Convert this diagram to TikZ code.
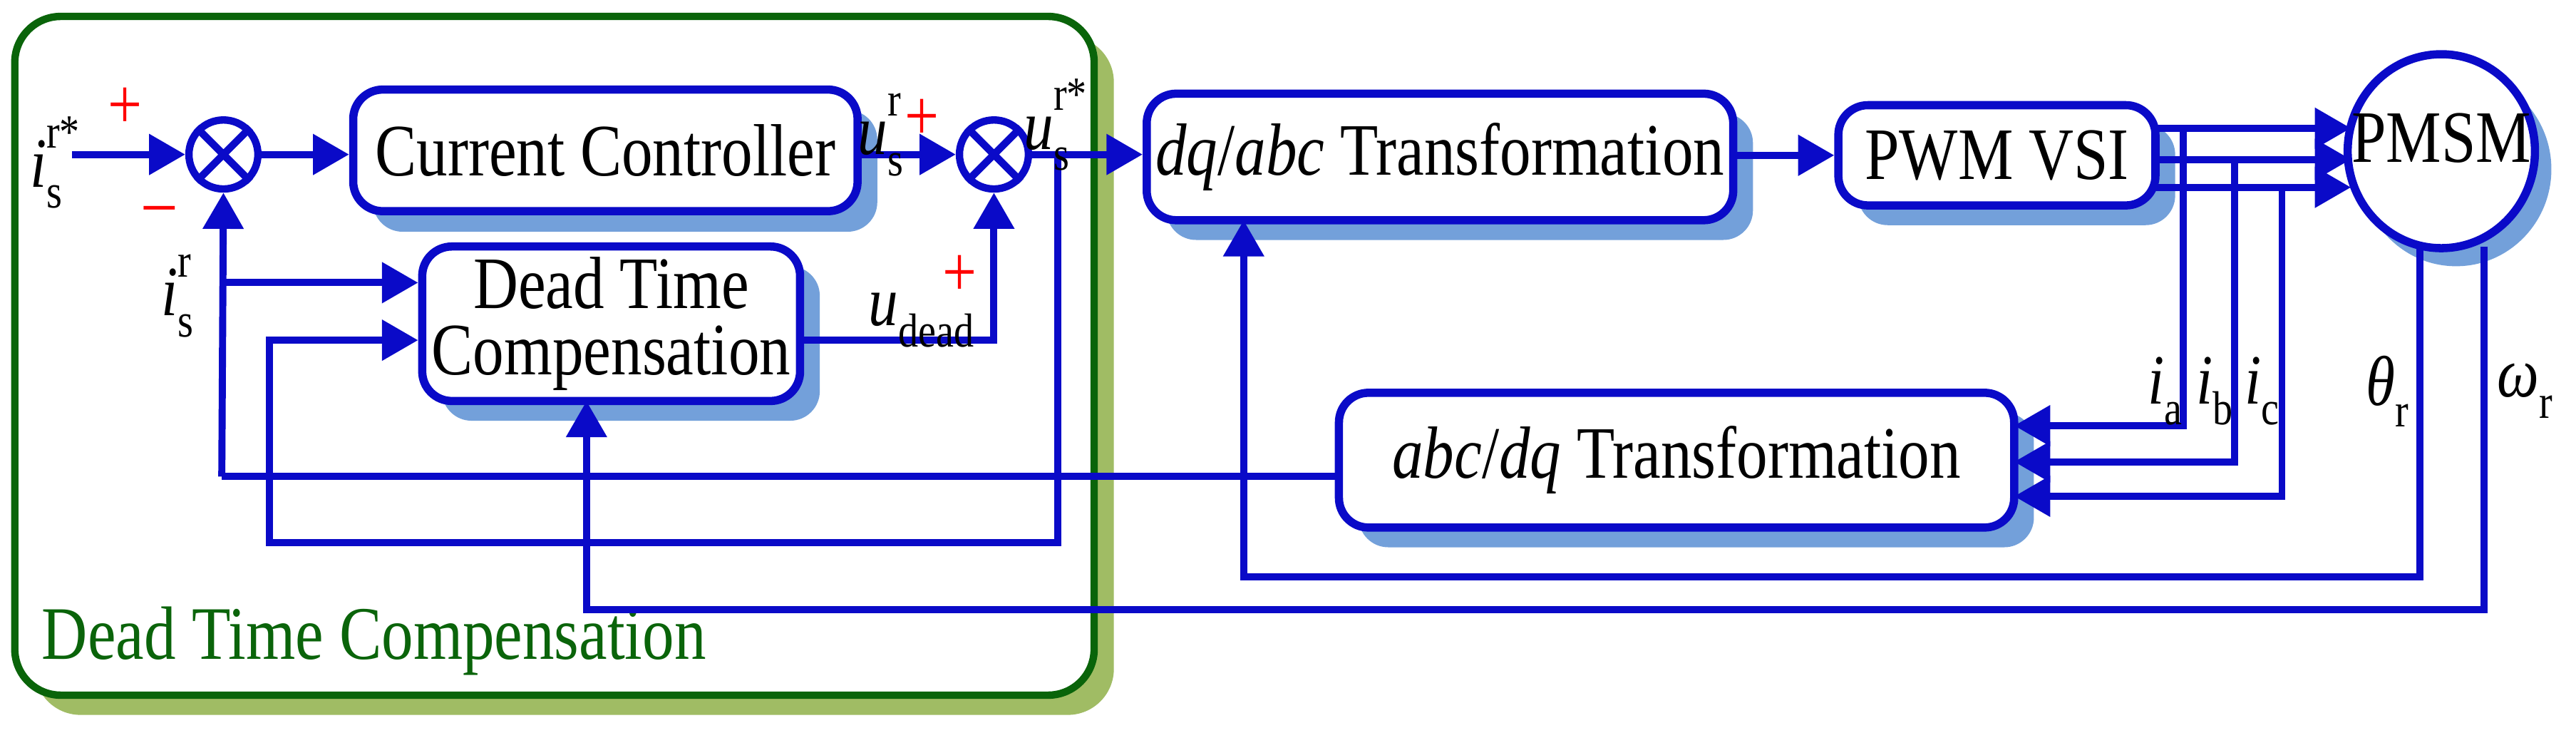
\documentclass[tikz,border=0pt]{standalone}
\usepackage{fontspec}
\setmainfont{Liberation Serif}[FakeStretch=0.84]
\usetikzlibrary{arrows.meta,shapes.geometric}
\definecolor{bl}{RGB}{10,10,200}
\definecolor{sh}{RGB}{115,160,218}
\definecolor{gr}{RGB}{10,100,10}
\definecolor{ol}{RGB}{160,188,100}
\newcommand{\ssb}[3]{#1\rlap{\raisebox{0.55em}{\upshape\fontsize{29}{29}\selectfont #2}}\raisebox{-0.3em}{\upshape\fontsize{29}{29}\selectfont #3}}
\newcommand{\sbb}[2]{#1\raisebox{-0.3em}{\upshape\fontsize{29}{29}\selectfont #2}}
\begin{document}
\begin{tikzpicture}[x=1pt,y=-1pt,
 blk/.style={draw=bl,line width=5pt,rounded corners=18pt,fill=white,font=\fontsize{45}{40}\selectfont,align=center,inner sep=0pt},
 ln/.style={draw=bl,line width=4.3pt},
 ar/.style={ln,-{Triangle[length=22pt,width=24pt]}},
 lab/.style={font=\fontsize{43}{43}\selectfont\itshape,inner sep=0pt},
 pm/.style={text=red,font=\fontsize{44}{44}\selectfont,inner sep=0pt}]
\useasboundingbox (0,0) rectangle (1568,446);
% green box
\fill[ol,rounded corners=28pt] (21,22) rectangle (678,435);
\draw[gr,line width=4.5pt,fill=white,rounded corners=28pt] (9,10) rectangle (666,423);
\node[text=gr,font=\fontsize{46}{46}\selectfont,anchor=west] (glab) at (22,390) {Dead Time Compensation};
% shadows
\foreach \a/\b/\c/\d in {215/55/522/129, 257/150/487/244, 698/57/1055/134, 1119/64/1312/125, 815/239/1226/321}
  \fill[sh,rounded corners=18pt] (\a+12,\b+12) rectangle (\c+12,\d+12);
\fill[sh] (1495,103) ellipse (58pt and 59pt);
% blocks
\node[blk,minimum width=307pt,minimum height=74pt] (cc) at (368.5,91.5) {Current Controller};
\node[blk,minimum width=230pt,minimum height=94pt] (dt) at (372,197) {Dead Time\\Compensation};
\node[blk,minimum width=357pt,minimum height=77pt] (dq) at (876.5,95.5) {\textit{dq}/\textit{abc} Transformation};
\node[blk,minimum width=193pt,minimum height=61pt] (pwm) at (1215.5,94.5) {PWM VSI};
\node[blk,minimum width=411pt,minimum height=82pt] (abc) at (1020.5,280) {\textit{abc}/\textit{dq} Transformation};
\node[draw=bl,line width=5pt,fill=white,ellipse,minimum width=114pt,minimum height=118pt,inner sep=0pt] (pmsm) at (1486,92) {};
\node[font=\fontsize{45}{45}\selectfont,inner sep=0pt] (pmt) at (1486,84) {PMSM};
% sums
\foreach \n/\x in {s1/136,s2/605}{
 \node[draw=bl,line width=4.5pt,circle,minimum size=42pt,inner sep=0pt,fill=white] (\n) at (\x,94) {};
 \draw[bl,line width=4.5pt] (\n.north west)--(\n.south east) (\n.north east)--(\n.south west);}
% main path
\coordinate (in) at (44,94);
\draw[ar] (in) -- (s1.west);
\draw[ar] (s1.east) -- (cc.west |- s1.east);
\draw[ar] (cc.east |- s2.west) -- (s2.west);
\draw[ar] (s2.east) -- (dq.west |- s2.east);
\draw[ar] (dq.east |- pwm.west) -- (pwm.west);
% three phase
\foreach \y in {78,97,114} \draw[ar] (1312,\y) -- (1431,\y);
\coordinate (pa) at (1329,78); \coordinate (pb) at (1360,97); \coordinate (pc) at (1389,114);
\draw[ar] (pa) |- (1226,259);
\draw[ar] (pb) |- (1226,281);
\draw[ar] (pc) |- (1226,302);
% feedback
\coordinate (fb) at (135,290);
\draw[ln] (abc.west |- 0,290) -- (fb);
\draw[ar] (fb) -- (s1.south);
\coordinate (br1) at (135,172);
\draw[ar] (br1) -- (dt.west |- br1);
\coordinate (br2) at (644,94);
\draw[ar] (br2) -- (644,330) -- (164,330) |- (dt.west |- 0,207);
\draw[ar] (dt.east |- 0,207) -| (s2.south);
\coordinate (th) at (1473,150);
\draw[ar] (th) -- (1473,351) -| (757,134);
\coordinate (om) at (1512,150);
\draw[ar] (om) -- (1512,371) -| (357,244);
% labels
\node[lab] (l1) at (28,99) {\ssb{i}{r*}{s}};
\node[pm] (p1) at (76,66) {+};
\node[pm] (m1) at (97,131) {\textendash};
\node[lab] (l2) at (108,180) {\ssb{i}{r}{s}};
\node[lab] (l3) at (536,82) {\ssb{u}{r}{s}};
\node[pm] (p2) at (561,73) {+};
\node[lab] (l4) at (637,76) {\ssb{u}{r*}{s}};
\node[lab,anchor=east] (l5) at (593,195) {\sbb{u}{dead}};
\node[pm] (p3) at (584,168) {+};
\node[lab] (la) at (1318,238) {\sbb{i}{a}};
\node[lab] (lb) at (1348,238) {\sbb{i}{b}};
\node[lab] (lc) at (1377,238) {\sbb{i}{c}};
\node[lab] (lt) at (1453,238) {\sbb{θ}{r}};
\node[lab] (lw) at (1537,238) {\sbb{ω}{r}};
\end{tikzpicture}
\end{document}
